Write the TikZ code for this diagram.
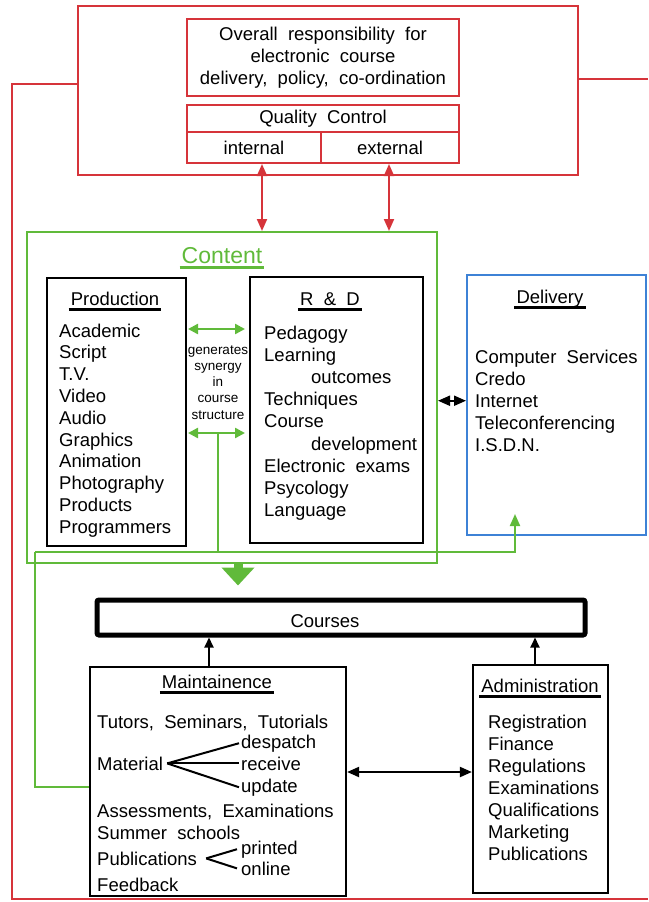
\documentclass[tikz,border=0pt]{standalone}
\usepackage{fontspec}
\setmainfont[WordSpace=2]{Liberation Sans}
\usetikzlibrary{arrows.meta, positioning}
\definecolor{mgmtred}{RGB}{214,52,58}
\definecolor{contgreen}{RGB}{96,186,58}
\definecolor{delblue}{RGB}{62,130,214}

\begin{document}
\begin{tikzpicture}[
			x=1pt, y=-1pt,
			every node/.style={font=\fontsize{18.5}{22}\selectfont, inner sep=1pt},
			redbox/.style={draw=mgmtred, line width=2pt},
			greenbox/.style={draw=contgreen, line width=2pt},
			blackbox/.style={draw, line width=2.2pt},
			item/.style={anchor=base west},
			heading/.style={anchor=base, inner sep=0pt},
			small/.style={anchor=base, font=\fontsize{13.5}{16}\selectfont},
			uline/.style={line width=2.2pt, shorten <=-2pt, shorten >=-2pt},
			redline/.style={mgmtred, line width=2pt},
			greenline/.style={contgreen, line width=2pt},
			redarrow/.style={redline, {Triangle[length=12pt,width=10pt]}-{Triangle[length=12pt,width=10pt]}},
			greenarrow/.style={contgreen, line width=2.4pt, {Triangle[length=10pt,width=10pt]}-{Triangle[length=10pt,width=10pt]}},
			blackarrow/.style={line width=2pt, -{Triangle[length=10pt,width=9pt]}},
			dblarrow/.style={line width=2pt, {Triangle[length=12pt,width=10pt]}-{Triangle[length=12pt,width=10pt]}}
			]
			\useasboundingbox (0,0) rectangle (648,902);
			
			% Management block
			\node[redbox, minimum width=500, minimum height=169] (mgmt) at (328,90.5) {};
			\node[redbox, minimum width=272, minimum height=77, align=center] (resp) at (323,57.5) {Overall responsibility for\\electronic course\\delivery, policy, co-ordination};
			\node[redbox, minimum width=272, minimum height=27] (qc) at (323,118.5) {Quality Control};
			\node[redbox, minimum width=134, minimum height=31] (int) at (254,147.5) {internal};
			\node[redbox, minimum width=138, minimum height=31] (ext) at (390,147.5) {external};
			
			\coordinate (redNW) at (12,84);
			\coordinate (redSW) at (12,899);
			\coordinate (redSE) at (648,899);
			\coordinate (redE) at (648,79);
			\draw[redline] ([yshift=6.5pt]mgmt.west) -- (redNW) -- (redSW) -- (redSE);
			\draw[redline] ([yshift=11.5pt]mgmt.east) -- (redE);
			
			% Content block
			\node[greenbox, minimum width=410, minimum height=331] (content) at (232,397.5) {};
			\node[heading, contgreen, font=\fontsize{23}{26}\selectfont] (contT) at (222,263) {Content};
			\draw[uline, contgreen] ([yshift=-4.5pt]contT.base west) -- ([yshift=-4.5pt]contT.base east);
			
			\draw[redarrow] ([xshift=8pt]int.south) -- ([xshift=8pt]int.south |- content.north);
			\draw[redarrow] ([xshift=-1pt]ext.south) -- ([xshift=-1pt]ext.south |- content.north);
			
			% Production
			\node[blackbox, minimum width=139, minimum height=268] (prod) at (116.5,412) {};
			\node[heading] (prodT) at (115,305) {Production};
			\draw[uline] ([yshift=-4.5pt]prodT.base west) -- ([yshift=-4.5pt]prodT.base east);
			\foreach \t [count=\i] in {Academic, Script, T.V., Video, Audio, Graphics, Animation, Photography, Products, Programmers}
				\node[item] (prod\i) at (58, 315.2+21.8*\i) {\t};
			
			% R & D
			\node[blackbox, minimum width=173, minimum height=266] (rnd) at (336.5,410) {};
			\node[heading] (rndT) at (330,305) {R \& D};
			\draw[uline] ([yshift=-4.5pt]rndT.base west) -- ([yshift=-4.5pt]rndT.base east);
			\foreach \t/\x [count=\i] in {Pedagogy/263, Learning/263, outcomes/310, Techniques/263, Course/263, development/310, Electronic exams/263, Psycology/263, Language/263}
				\node[item] (rnd\i) at (\x, 316.8+22.2*\i) {\t};
			
			% synergy between Production and R & D
			\coordinate (synTL) at (188,329);
			\coordinate (synTR) at (245,329);
			\coordinate (synBL) at (188,433);
			\coordinate (synBR) at (245,433);
			\coordinate (synMid) at (218,433);
			\draw[greenarrow] (synTL) -- (synTR);
			\draw[greenarrow] (synBL) -- (synBR);
			\foreach \t [count=\i] in {generates, synergy, in, course, structure}
				\node[small] (syn\i) at (218, 337.7+16.3*\i) {\t};
			
			% Delivery
			\node[draw=delblue, line width=2pt, minimum width=179, minimum height=260] (dlv) at (556.5,405) {};
			\node[heading] (dlvT) at (550,303) {Delivery};
			\draw[uline] ([yshift=-4.5pt]dlvT.base west) -- ([yshift=-4.5pt]dlvT.base east);
			\foreach \t [count=\i] in {Computer Services, Credo, Internet, Teleconferencing, I.S.D.N.}
				\node[item] (dlv\i) at (474, 341+22*\i) {\t};
			\draw[dblarrow] (dlv3.west -| content.east) -- (dlv3.west -| dlv.west);
			
			% Courses
			\node[draw, line width=5pt, rounded corners=2pt, minimum width=488, minimum height=35] (courses) at (341,617.5) {};
			\node[anchor=base] (coursesT) at (325,627) {Courses};
			\draw[contgreen, line width=9pt, -{Triangle[length=18pt,width=32pt]}, shorten >=12pt] ([xshift=6pt]content.south) -- ([xshift=6pt]content.south |- courses.north);
			
			% Maintainence
			\node[blackbox, minimum width=256, minimum height=229] (maint) at (218,781.5) {};
			\node[heading] (maintT) at (217,688) {Maintainence};
			\draw[uline] ([yshift=-4.5pt]maintT.base west) -- ([yshift=-4.5pt]maintT.base east);
			\node[item] (tut) at (96,728) {Tutors, Seminars, Tutorials};
			\node[item] (mat) at (96,770) {Material};
			\node[item] (desp) at (240,748) {despatch};
			\node[item] (recv) at (240,770) {receive};
			\node[item] (upd) at (240,792) {update};
			\node[item] (assess) at (96,817) {Assessments, Examinations};
			\node[item] (summer) at (96,839) {Summer schools};
			\node[item] (pub) at (96,865) {Publications};
			\node[item] (prnt) at (240,854) {printed};
			\node[item] (onl) at (240,875) {online};
			\node[item] (feed) at (96,891) {Feedback};
			\foreach \n in {desp, recv, upd}
				\draw[line width=2pt] ([xshift=3pt]mat.east) -- ([xshift=-1pt]\n.west);
			\foreach \n in {prnt, onl}
				\draw[line width=2pt] ([xshift=8pt]pub.east) -- ([xshift=-3pt]\n.west);
			
			% Administration
			\node[blackbox, minimum width=135, minimum height=228] (adm) at (540.5,779) {};
			\node[heading] (admT) at (540,692) {Administration};
			\draw[uline] ([yshift=-4.5pt]admT.base west) -- ([yshift=-4.5pt]admT.base east);
			\foreach \t [count=\i] in {Registration, Finance, Regulations, Examinations, Qualifications, Marketing, Publications}
				\node[item] (adm\i) at (487, 706+22*\i) {\t};
			
			\draw[blackarrow] ([xshift=-9pt]maint.north) -- ([xshift=-9pt]maint.north |- courses.south);
			\draw[blackarrow] ([xshift=-5.5pt]adm.north) -- ([xshift=-5.5pt]adm.north |- courses.south);
			\draw[dblarrow] ([yshift=9.5pt]maint.east) -- ([yshift=9.5pt]maint.east -| adm.west);
			
			% green links
			\coordinate (busW) at (35,552);
			\coordinate (busE) at (515,552);
			\coordinate (dlvIn) at (515,514);
			\draw[greenline] (synMid) -- (synMid |- busW);
			\draw[greenline, -{Triangle[length=12pt,width=10pt]}] (busW) -- (busE) -- (dlvIn);
			\draw[greenline] (busW) |- ([yshift=-5.5pt]maint.west);
		\end{tikzpicture}
\end{document}
